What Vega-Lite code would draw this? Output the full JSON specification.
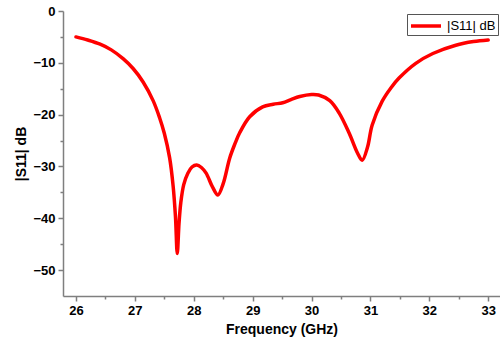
{
  "$schema": "https://vega.github.io/schema/vega-lite/v6.json",
  "width": 437,
  "height": 285,
  "autosize": {"type": "none"},
  "padding": {"left": 63, "top": 11, "right": 0, "bottom": 41},
  "background": "white",
  "config": {
    "view": {"stroke": null},
    "font": "Liberation Sans"
  },
  "data": {
    "values": [
      {"f": 26.0, "s": -5.0, "series": "|S11| dB"},
      {"f": 26.2, "s": -5.6, "series": "|S11| dB"},
      {"f": 26.41, "s": -6.4, "series": "|S11| dB"},
      {"f": 26.6, "s": -7.5, "series": "|S11| dB"},
      {"f": 26.8, "s": -9.2, "series": "|S11| dB"},
      {"f": 26.97, "s": -11.1, "series": "|S11| dB"},
      {"f": 27.14, "s": -13.7, "series": "|S11| dB"},
      {"f": 27.31, "s": -17.3, "series": "|S11| dB"},
      {"f": 27.42, "s": -20.6, "series": "|S11| dB"},
      {"f": 27.5, "s": -23.6, "series": "|S11| dB"},
      {"f": 27.59, "s": -28.3, "series": "|S11| dB"},
      {"f": 27.65, "s": -33.8, "series": "|S11| dB"},
      {"f": 27.69, "s": -39.8, "series": "|S11| dB"},
      {"f": 27.72, "s": -46.8, "series": "|S11| dB"},
      {"f": 27.75, "s": -41.0, "series": "|S11| dB"},
      {"f": 27.78, "s": -37.0, "series": "|S11| dB"},
      {"f": 27.83, "s": -33.5, "series": "|S11| dB"},
      {"f": 27.9, "s": -31.3, "series": "|S11| dB"},
      {"f": 27.97, "s": -30.1, "series": "|S11| dB"},
      {"f": 28.05, "s": -29.7, "series": "|S11| dB"},
      {"f": 28.13, "s": -30.2, "series": "|S11| dB"},
      {"f": 28.21, "s": -31.3, "series": "|S11| dB"},
      {"f": 28.32, "s": -34.0, "series": "|S11| dB"},
      {"f": 28.41, "s": -35.5, "series": "|S11| dB"},
      {"f": 28.5, "s": -33.3, "series": "|S11| dB"},
      {"f": 28.61, "s": -28.4, "series": "|S11| dB"},
      {"f": 28.7, "s": -25.6, "series": "|S11| dB"},
      {"f": 28.78, "s": -23.5, "series": "|S11| dB"},
      {"f": 28.95, "s": -20.4, "series": "|S11| dB"},
      {"f": 29.17, "s": -18.5, "series": "|S11| dB"},
      {"f": 29.35, "s": -18.0, "series": "|S11| dB"},
      {"f": 29.51, "s": -17.7, "series": "|S11| dB"},
      {"f": 29.65, "s": -17.1, "series": "|S11| dB"},
      {"f": 29.8, "s": -16.5, "series": "|S11| dB"},
      {"f": 30.0, "s": -16.1, "series": "|S11| dB"},
      {"f": 30.12, "s": -16.2, "series": "|S11| dB"},
      {"f": 30.31, "s": -17.3, "series": "|S11| dB"},
      {"f": 30.47, "s": -19.7, "series": "|S11| dB"},
      {"f": 30.64, "s": -23.6, "series": "|S11| dB"},
      {"f": 30.78, "s": -27.4, "series": "|S11| dB"},
      {"f": 30.86, "s": -28.8, "series": "|S11| dB"},
      {"f": 30.95, "s": -26.3, "series": "|S11| dB"},
      {"f": 31.03, "s": -22.0, "series": "|S11| dB"},
      {"f": 31.2, "s": -17.4, "series": "|S11| dB"},
      {"f": 31.35, "s": -14.8, "series": "|S11| dB"},
      {"f": 31.49, "s": -12.9, "series": "|S11| dB"},
      {"f": 31.77, "s": -10.1, "series": "|S11| dB"},
      {"f": 32.06, "s": -8.2, "series": "|S11| dB"},
      {"f": 32.45, "s": -6.6, "series": "|S11| dB"},
      {"f": 32.75, "s": -5.9, "series": "|S11| dB"},
      {"f": 33.0, "s": -5.6, "series": "|S11| dB"}
    ]
  },
  "mark": {"type": "line", "interpolate": "catmull-rom", "strokeWidth": 3.5, "strokeCap": "round", "strokeJoin": "round"},
  "encoding": {
    "x": {
      "field": "f",
      "type": "quantitative",
      "scale": {"domain": [25.78, 33.2], "nice": false, "zero": false},
      "axis": {
        "title": "Frequency (GHz)",
        "titleFont": "Liberation Sans",
        "titleFontSize": 14,
        "titleFontWeight": "bold",
        "titleColor": "black",
        "titlePadding": 5,
        "values": [26, 26.5, 27, 27.5, 28, 28.5, 29, 29.5, 30, 30.5, 31, 31.5, 32, 32.5, 33],
        "labelExpr": "datum.value % 1 === 0 ? format(datum.value, 'd') : ''",
        "labelFont": "Liberation Sans",
        "labelFontSize": 13,
        "labelFontWeight": "bold",
        "labelColor": "black",
        "labelPadding": 3,
        "labelFlush": false,
        "labelOverlap": false,
        "grid": false,
        "domainColor": "#7f7f7f",
        "domainWidth": 1.5,
        "tickColor": "#7f7f7f",
        "tickWidth": 1.5,
        "tickSize": {"condition": {"test": "datum.value % 1 === 0", "value": 5}, "value": 3}
      }
    },
    "y": {
      "field": "s",
      "type": "quantitative",
      "scale": {"domain": [-55, 0], "nice": false, "zero": false},
      "axis": {
        "title": "|S11| dB",
        "titleFont": "Liberation Sans",
        "titleFontSize": 14,
        "titleFontWeight": "bold",
        "titleColor": "black",
        "titlePadding": 4,
        "values": [-50, -45, -40, -35, -30, -25, -20, -15, -10, -5, 0],
        "labelExpr": "datum.value % 10 === 0 ? format(datum.value, 'd') : ''",
        "labelFont": "Liberation Sans",
        "labelFontSize": 13,
        "labelFontWeight": "bold",
        "labelColor": "black",
        "labelPadding": 3,
        "labelFlush": false,
        "labelOverlap": false,
        "grid": false,
        "domainColor": "#7f7f7f",
        "domainWidth": 1.5,
        "tickColor": "#7f7f7f",
        "tickWidth": 1.5,
        "tickSize": {"condition": {"test": "datum.value % 10 === 0", "value": 5}, "value": 3}
      }
    },
    "color": {
      "field": "series",
      "type": "nominal",
      "scale": {"range": ["#ff0000"]},
      "legend": {
        "title": null,
        "orient": "none",
        "legendX": 344,
        "legendY": 3,
        "symbolType": "M-1,0H2.75",
        "symbolSize": 256,
        "symbolStrokeWidth": 3.5,
        "symbolOffset": 0,
        "labelFont": "Liberation Sans",
        "labelFontSize": 13,
        "labelColor": "black",
        "labelOffset": 18,
        "strokeColor": "#555555",
        "padding": 2,
        "fillColor": "white"
      }
    }
  }
}
